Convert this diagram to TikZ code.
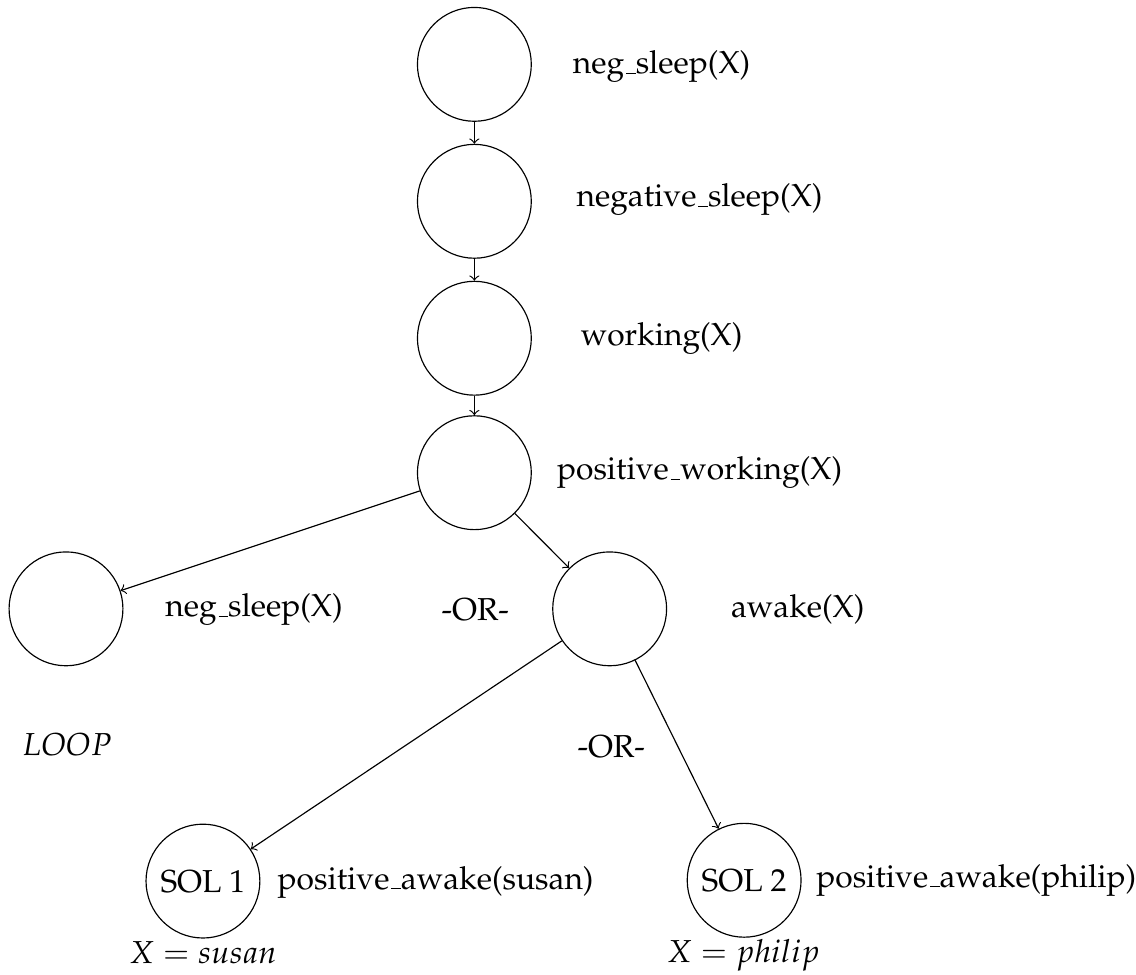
\documentclass[tikz,border=0pt,11pt]{standalone}
\usepackage[OT1]{fontenc}
\usepackage{mathpazo}
\usepackage{tikz}
\usetikzlibrary{arrows}

\begin{document}
\begin{tikzpicture}[
    goal/.style={draw,circle,minimum size=1.38cm,inner sep=0pt},
    ->]
  \useasboundingbox (0,0) rectangle (13.77,-11.81);
  % Draw the goal circles
  \node[goal] (n1) at (5.75,-0.78) {};
  \node[goal] (n2) at (5.75,-2.44) {};
  \node[goal] (n3) at (5.75,-4.10) {};
  \node[goal] (n4) at (5.75,-5.73) {};
  \node[goal] (loop) at (0.80,-7.38) {};
  \node[goal] (awake) at (7.39,-7.38) {};
  \node[goal] (sol1) at (2.46,-10.68) {SOL 1};
  \node[goal] (sol2) at (9.02,-10.67) {SOL 2};
  % Label the goals
  \node (t1) at (8.02,-0.81) {neg\_sleep(X)};
  \node (t2) at (8.48,-2.42) {negative\_sleep(X)};
  \node (t3) at (8.02,-4.10) {working(X)};
  \node (t4) at (8.48,-5.73) {positive\_working(X)};
  \node (t5) at (3.08,-7.39) {neg\_sleep(X)};
  \node (or1) at (5.76,-7.39) {-OR-};
  \node (t6) at (9.67,-7.39) {awake(X)};
  \node (lp) at (0.81,-9.03) {$LOOP$};
  \node (or2) at (7.41,-9.05) {-OR-};
  \node[anchor=west] (t7) at (3.23,-10.69) {positive\_awake(susan)};
  \node[anchor=west] (t8) at (9.76,-10.67) {positive\_awake(philip)};
  \node (x1) at (2.46,-11.55) {$X = susan$};
  \node (x2) at (9.01,-11.58) {$X = philip$};
  % Draw the edges
  \draw (n1) -- (n2);
  \draw (n2) -- (n3);
  \draw (n3) -- (n4);
  \draw (n4) -- (loop);
  \draw (n4) -- (awake);
  \draw (awake) -- (sol1);
  \draw (awake) -- (sol2);
\end{tikzpicture}
\end{document}
